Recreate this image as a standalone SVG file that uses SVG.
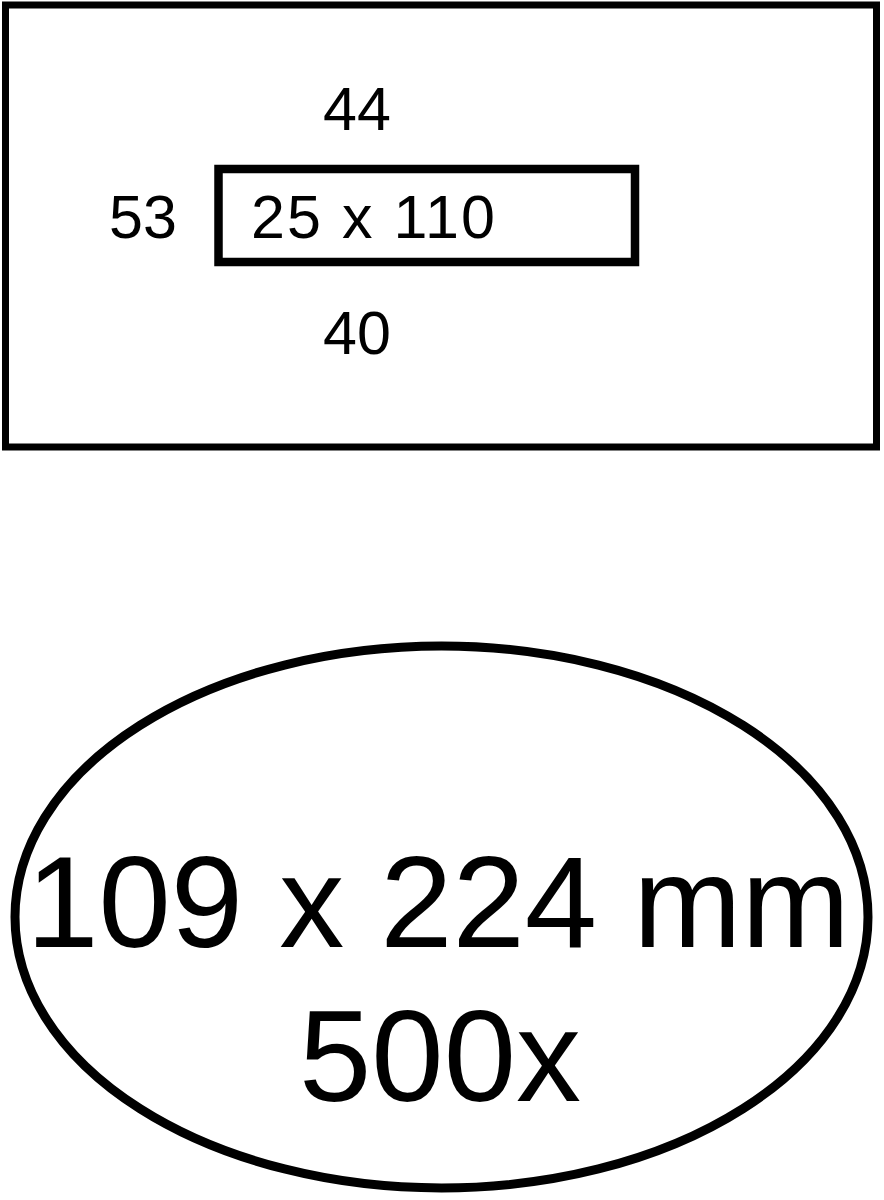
<svg xmlns="http://www.w3.org/2000/svg" width="884" height="1200" viewBox="0 0 884 1200">
<style>
.ln{fill:none;stroke:#000;}
.t{font-family:"Liberation Sans",Arial,sans-serif;fill:#000;}
.s{font-size:61px;}
.b{font-size:130px;}
</style>
<rect width="884" height="1200" fill="#fff"/>
<g id="envelope">
<rect class="ln" x="5.5" y="5" width="871" height="442" stroke-width="7"/>
</g>
<g id="window">
<rect class="ln" x="218.5" y="169" width="416.5" height="93" stroke-width="8.5"/>
<text class="t s" x="251" y="238" textLength="244" lengthAdjust="spacing">25 x 110</text>
</g>
<g id="label-top">
<text class="t s" x="323" y="130">44</text>
</g>
<g id="label-left">
<text class="t s" x="109" y="238">53</text>
</g>
<g id="label-bottom">
<text class="t s" x="323" y="354">40</text>
</g>
<g id="badge">
<ellipse class="ln" cx="441.5" cy="917" rx="426.5" ry="271" stroke-width="9"/>
<text class="t b" x="438" y="947" text-anchor="middle">109 x 224 mm</text>
<text class="t b" x="440" y="1101" text-anchor="middle">500x</text>
</g>
<g id="connectors"></g>
</svg>
